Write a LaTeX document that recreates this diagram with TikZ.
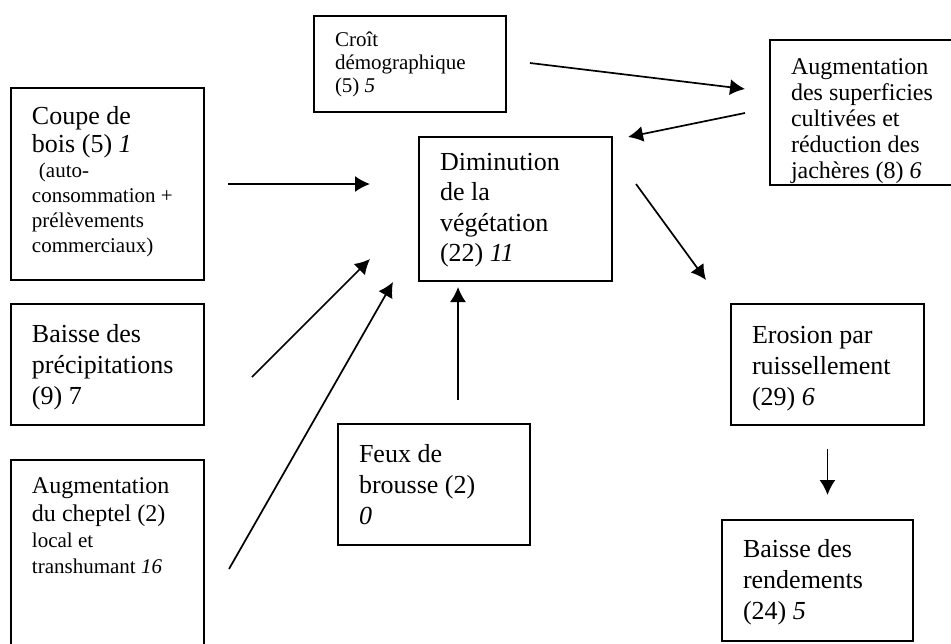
\documentclass[tikz,border=0pt]{standalone}
\usepackage{fontspec}
\setmainfont{Liberation Serif}
\usetikzlibrary{arrows.meta,calc}
\newcommand{\boxtext}[4][9.5pt]{\parbox[c][#3][t]{#2}{\raggedright\vspace*{#1}#4}}
\newcommand{\smalltxt}{\fontsize{10.5}{12.5}\selectfont}
\tikzset{ %inner xsep = 10.5pt,
  >={Latex[length=7.5pt,width=8pt]},
  {cause/.style} ={draw, line width=1pt, anchor=north west,
                   inner xsep=10.5pt, inner ysep=0pt,
                   font=\fontsize{13}{15.5}\selectfont},
  {link/.style} ={->, line width=0.85pt},
}
\begin{document}
\begin{tikzpicture}[x=0.5pt,y=-0.5pt]
\clip (0,0) rectangle (951,643);
\node[cause] (croit) at (313,15) {\boxtext[8pt]{75pt}{48pt}{\fontsize{10.5}{11.5}\selectfont Croît\\démographique\\(5) \textit{5}}};
\node[cause, font=\fontsize{12}{13}\selectfont] (augm) at (769,39) {\boxtext{74pt}{72.5pt}{Augmentation\\des superficies\\cultivées et\\réduction des\\jachères (8) \textit{6}}};
\node[cause] (coupe) at (10,87) {\boxtext[9pt]{75.5pt}{96pt}{\fontsize{13}{14.4}\selectfont Coupe de\\bois (5) \textit{1}\par\smalltxt\hspace*{3.5pt}(auto-\\consommation +\\prélèvements\\commerciaux)}};
\node[cause, font=\fontsize{13}{15.25}\selectfont] (dimin) at (418,136) {\boxtext[8pt]{75.5pt}{72pt}{Diminution\\de la\\végétation\\(22) \textit{11}}};
\node[cause] (precip) at (10,303) {\boxtext[10pt]{75.5pt}{60.5pt}{Baisse des\\précipitations\\(9) 7}};
\node[cause, font=\fontsize{12}{14}\selectfont] (cheptel) at (10,459) {\boxtext[9pt]{75.5pt}{95pt}{Augmentation\\du cheptel (2)\par\fontsize{10.5}{12.8}\selectfont local et\\transhumant \textit{16}}};
\node[cause] (feux) at (337,423) {\boxtext[10pt]{75pt}{60.5pt}{Feux de\\brousse (2)\\\textit{0}}};
\node[cause] (erosion) at (730,303) {\boxtext[11pt]{75.5pt}{60.5pt}{Erosion par\\ruissellement\\(29) \textit{6}}};
\node[cause] (rend) at (721,519) {\boxtext{74.5pt}{60.5pt}{Baisse des\\rendements\\(24) \textit{5}}};

\draw[link] ($(croit.east)+(23,-1)$) -- ($(augm.west)+(-24,-23.5)$);
\draw[link] ($(augm.west)+(-24,0.5)$) -- ($(dimin.north east)+(15,1)$);
\draw[link] ($(coupe.east)+(23,0)$) -- ($(dimin.west)+(-48,-25)$);
\draw[link] ($(dimin.east)+(23,-25)$) -- ($(erosion.north west)+(-24,-23)$);
\draw[link] ($(precip.east)+(47,12.5)$) -- ($(dimin.south west)+(-48,-23)$);
\draw[link] ($(cheptel.east)+(24,14)$) -- ($(dimin.south west)+(-25,0)$);
\draw[link] ($(feux.north)+(24,-23)$) -- ($(dimin.south)+(-57.5,5)$);
\draw[link] ($(erosion.south)+(0,23)$) -- ($(rend.north)+(10,-24)$);
\end{tikzpicture}
\end{document}
